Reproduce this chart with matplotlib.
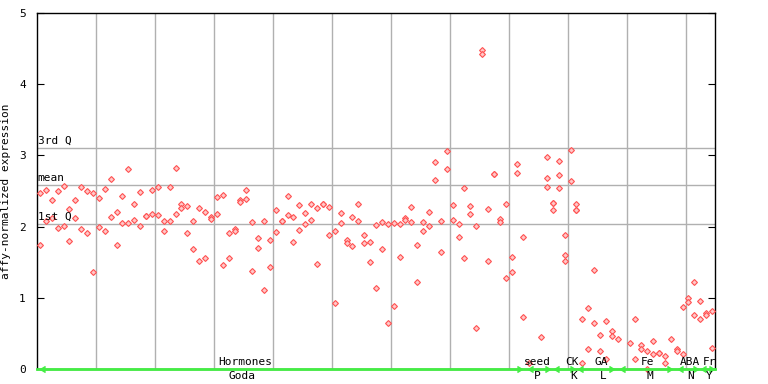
import matplotlib
matplotlib.use('Agg')
import matplotlib.pyplot as plt

# expression values per sample column (several replicates per column)
expr = [
    [2.47, 1.74], [2.51, 2.08], [2.37, 2.12], [2.50, 1.98], [2.57, 2.01],
    [2.25, 1.80], [2.37, 2.12], [2.56, 1.97], [2.50, 1.91], [2.47, 1.36],
    [2.40, 1.99], [2.53, 1.94], [2.67, 2.13], [2.21, 1.74], [2.43, 2.05],
    [2.81, 2.05], [2.32, 2.09], [2.49, 2.01], [2.15, 2.15], [2.51, 2.18],
    [2.56, 2.16], [2.08, 1.94], [2.56, 2.08], [2.82, 2.18], [2.32, 2.26],
    [2.29, 1.91], [2.08, 1.69], [2.26, 1.52], [2.21, 1.56], [2.13, 2.11],
    [2.42, 2.18], [2.44, 1.46], [1.91, 1.56], [1.97, 1.94], [2.37, 2.35],
    [2.51, 2.39], [2.06, 1.38], [1.84, 1.70], [2.08, 1.11], [1.81, 1.43],
    [2.23, 1.92], [2.08, 2.08], [2.43, 2.16], [2.13, 1.78], [2.30, 1.95],
    [2.19, 2.04], [2.32, 2.09], [2.26, 1.47], [2.32, 2.32], [2.28, 1.88],
    [1.94, 0.93], [2.19, 2.05], [1.81, 1.77], [2.13, 1.73], [2.32, 2.08],
    [1.88, 1.77], [1.78, 1.50], [2.02, 1.14], [2.06, 1.69], [2.04, 0.65],
    [2.05, 0.88], [2.04, 1.57], [2.12, 2.09], [2.28, 2.06], [1.74, 1.22],
    [2.06, 1.94], [2.21, 2.01], [2.91, 2.65], [2.08, 1.64], [3.06, 2.81],
    [2.30, 2.09], [2.04, 1.85], [2.54, 1.56], [2.29, 2.18], [2.01, 0.58],
    [4.48, 4.42], [2.25, 1.52], [2.74, 2.74], [2.11, 2.06], [2.32, 1.28],
    [1.57, 1.36], [2.88, 2.75], [1.85, 0.73], [0.08], [],
    [0.45], [2.98, 2.68, 2.56], [2.33, 2.33, 2.23], [2.92, 2.72, 2.54], [1.88, 1.60, 1.52],
    [3.08, 2.64], [2.32, 2.23, 2.23], [0.70, 0.08], [0.86, 0.28], [1.39, 0.65],
    [0.48, 0.25], [0.67, 0.14], [0.53, 0.46], [0.42], [],
    [0.37], [0.70, 0.14], [0.34, 0.28], [0.25, 0.0], [0.39, 0.21],
    [0.22, 0.22], [0.18, 0.08], [0.42], [0.28, 0.25], [0.87, 0.21],
    [1.00, 0.94], [1.22, 0.76], [0.96, 0.70], [0.79, 0.76], [0.81, 0.29],
]

# summary lines
q1, mean_val, q3 = 2.04, 2.58, 3.10

# experiment groups along the bottom
top_labels = ['Hormones', 'seed', 'CK', 'GA', 'Fe', 'ABA', 'Fr']
top_pos = [34.8, 84.3, 90.2, 95.2, 103.1, 110.2, 113.6]
bottom_labels = ['Goda', 'P', 'K', 'L', 'M', 'N', 'Y']
bottom_pos = [34.3, 84.4, 90.6, 95.5, 103.4, 110.4, 113.5]
group_starts = [0, 82.8, 87.2, 91.3, 98.4, 108.3, 112.2]
group_ends = [81.8, 86.5, 90.8, 97.4, 107.2, 111.6, 114.3]

mono = 'DejaVu Sans Mono'

fig = plt.figure(figsize=(7.68, 3.84), dpi=100)
ax = fig.add_axes([37 / 768, 15 / 384, 678 / 768, 356 / 384])

xs, ys = [], []
for k, vals in enumerate(expr):
    for v in vals:
        xs.append(k)
        ys.append(v)
ax.plot(xs, ys, linestyle='none', marker='D', markersize=3.0,
        markerfacecolor='#ffc8c8', markeredgecolor='#ff5050',
        markeredgewidth=0.8, clip_on=False, zorder=3)

ax.set_xlim(-0.5, len(expr) - 0.5)
ax.set_ylim(0, 5)

# vertical grid every 10 columns
for gx in range(10, len(expr), 10):
    ax.axvline(gx - 0.5, color='#b0b0b0', lw=1, zorder=1)

for val, name in [(q3, '3rd Q'), (mean_val, 'mean'), (q1, '1st Q')]:
    ax.axhline(val, color='#b0b0b0', lw=1, zorder=1)
    ax.text(-0.4, val + 0.03, name, fontsize=8, family=mono,
            ha='left', va='bottom', zorder=4)

# green group bar with arrows
ax.plot([-0.5, len(expr) - 0.5], [0, 0], color='#44ee44', lw=2,
        clip_on=False, zorder=5)
ax.plot(group_starts, [0] * len(group_starts), linestyle='none', marker=4,
        markersize=5, color='#44ee44', clip_on=False, zorder=5)
ax.plot(group_ends, [0] * len(group_ends), linestyle='none', marker=5,
        markersize=5, color='#44ee44', clip_on=False, zorder=5)

for lbl, p in zip(top_labels, top_pos):
    ax.text(p, 0.03, lbl, fontsize=8, family=mono, ha='center',
            va='bottom', zorder=6)
for lbl, p in zip(bottom_labels, bottom_pos):
    ax.text(p, -0.1, lbl, fontsize=8, family=mono, ha='center',
            va='center', zorder=6, clip_on=False)

ax.set_yticks([0, 1, 2, 3, 4, 5])
ax.set_xticks([])
ax.tick_params(axis='y', direction='in', length=5, labelsize=8,
               right=True, left=True, pad=8)
for t in ax.get_yticklabels():
    t.set_family(mono)
ax.set_ylabel('affy-normalized expression', fontsize=8, family=mono,
              labelpad=6)

for s in ax.spines.values():
    s.set_color('black')
    s.set_linewidth(1)

plt.savefig('out.png', dpi=100)
